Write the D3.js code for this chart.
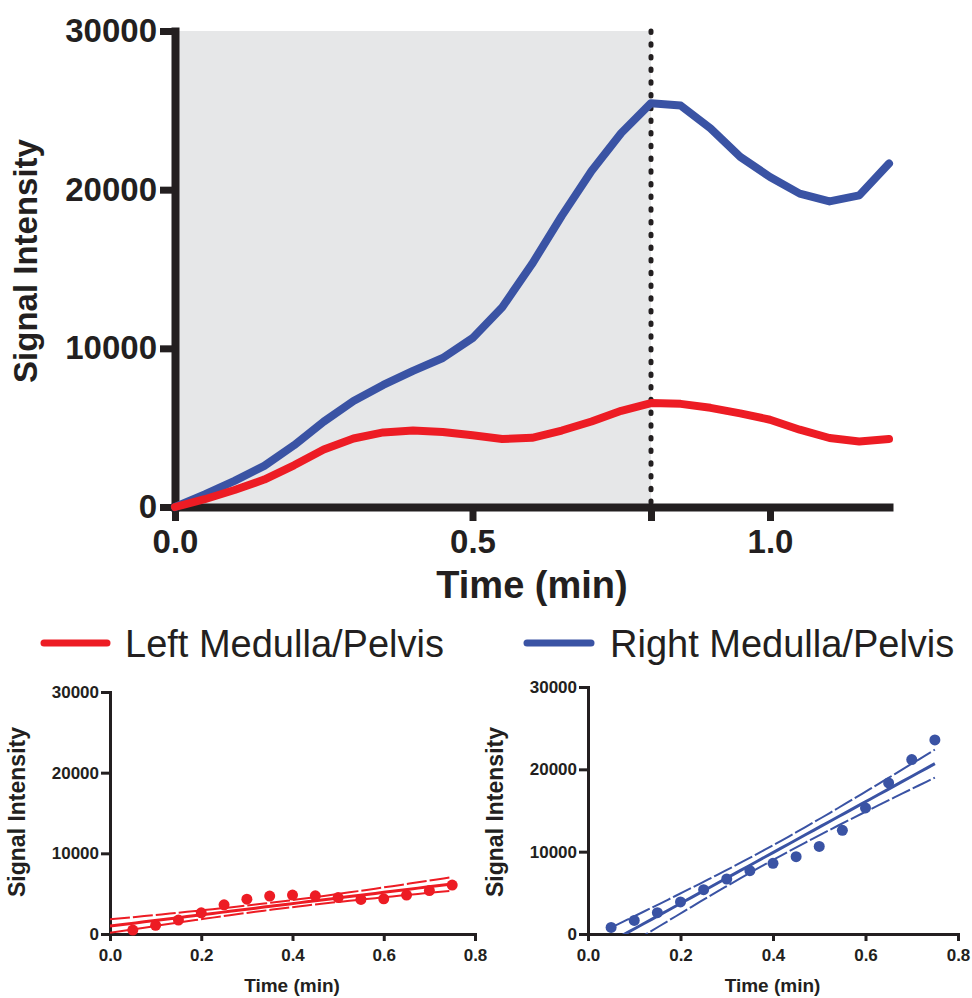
<!DOCTYPE html>
<html>
<head>
<meta charset="utf-8">
<script src="https://cdnjs.cloudflare.com/ajax/libs/d3/7.8.5/d3.min.js"></script>
<style>
  body { margin: 0; background: #fff; }
  svg { display: block; font-family: "Liberation Sans", Arial, Helvetica, sans-serif; }
</style>
</head>
<body>
<svg id="chart" width="972" height="998"></svg>
<script>
// sample times (min), one every 0.05
var times = [0, 0.05, 0.1, 0.15, 0.2, 0.25, 0.3, 0.35, 0.4, 0.45, 0.5, 0.55, 0.6,
  0.65, 0.7, 0.75, 0.8, 0.85, 0.9, 0.95, 1.0, 1.05, 1.1, 1.15, 1.2];
var leftSignal = [0, 490, 1070, 1730, 2630, 3620, 4320, 4700, 4820, 4730, 4520, 4280, 4360,
  4820, 5390, 6060, 6550, 6500, 6250, 5900, 5500, 4870, 4350, 4130, 4290];
var rightSignal = [0, 800, 1650, 2590, 3890, 5380, 6680, 7690, 8580, 9390, 10640, 12590, 15310,
  18350, 21180, 23570, 25450, 25300, 23860, 22070, 20800, 19750, 19260, 19640, 21650];

var seriesNames = ["Left Medulla/Pelvis", "Right Medulla/Pelvis"];
var mainYTicks = [0, 10000, 20000, 30000];
var mainXTicks = [0, 0.5, 0.8, 1.0];
var smallXTicks = [0, 0.2, 0.4, 0.6, 0.8];
var peakTime = 0.8;

// regression windows (first time .. peak time) and t(0.975, df)
var leftFitStart = 0, rightFitStart = 0.05, fitEnd = 0.75;
var tCrit = { 14: 2.1448, 13: 2.1604 };

var RED = "#ED1C24", BLUE = "#3A53A4", INK = "#231F20", SHADE = "#E6E7E8";

var svg = d3.select("#chart");

function styleAxis(g, lineW, tickW, fontSize) {
  g.select(".domain").attr("stroke", INK).attr("stroke-width", lineW).attr("stroke-linecap", "square");
  g.selectAll(".tick line").attr("stroke", INK).attr("stroke-width", tickW);
  g.selectAll(".tick text").attr("fill", INK).attr("font-size", fontSize).attr("font-weight", "bold");
}

/* ---------- main chart ---------- */
var x = d3.scaleLinear().domain([0, 1.2]).range([175, 889]);
var y = d3.scaleLinear().domain([0, 30000]).range([507, 31]);

svg.append("rect")
  .attr("x", x(0)).attr("y", y(30000))
  .attr("width", x(peakTime) - x(0)).attr("height", y(0) - y(30000))
  .attr("fill", SHADE);

svg.append("line")
  .attr("x1", x(peakTime)).attr("x2", x(peakTime))
  .attr("y1", y(30000)).attr("y2", y(0))
  .attr("stroke", INK).attr("stroke-width", 5)
  .attr("stroke-linecap", "round").attr("stroke-dasharray", "1.5,11.2");

var gx = svg.append("g").attr("transform", "translate(0," + y(0) + ")")
  .call(d3.axisBottom(x).tickValues(mainXTicks).tickSize(14).tickSizeOuter(0).tickPadding(9)
    .tickFormat(function(d) { return d === peakTime ? "" : d3.format(".1f")(d); }));
styleAxis(gx, 8, 7, 33);

var gy = svg.append("g").attr("transform", "translate(" + x(0) + ",0)")
  .call(d3.axisLeft(y).tickValues(mainYTicks).tickSize(15).tickSizeOuter(0).tickPadding(3)
    .tickFormat(d3.format("d")));
styleAxis(gy, 8, 7, 33);

var mainLine = d3.line()
  .x(function(d, i) { return x(times[i]); })
  .y(function(d) { return y(d); });

svg.append("path").datum(rightSignal)
  .attr("d", mainLine).attr("fill", "none").attr("stroke", BLUE)
  .attr("stroke-width", 8).attr("stroke-linejoin", "round").attr("stroke-linecap", "round");
svg.append("path").datum(leftSignal)
  .attr("d", mainLine).attr("fill", "none").attr("stroke", RED)
  .attr("stroke-width", 8).attr("stroke-linejoin", "round").attr("stroke-linecap", "round");

svg.append("text")
  .attr("transform", "translate(37," + 261 + ") rotate(-90)")
  .attr("text-anchor", "middle").attr("font-size", 33).attr("font-weight", "bold")
  .attr("fill", INK).text("Signal Intensity");
svg.append("text")
  .attr("x", 532).attr("y", 598)
  .attr("text-anchor", "middle").attr("font-size", 38).attr("font-weight", "bold")
  .attr("fill", INK).text("Time (min)");

/* ---------- legend ---------- */
var legend = [
  { name: seriesNames[0], color: RED, x1: 44, x2: 107, tx: 125 },
  { name: seriesNames[1], color: BLUE, x1: 527, x2: 591, tx: 610 }
];
legend.forEach(function(l) {
  svg.append("line").attr("x1", l.x1).attr("x2", l.x2).attr("y1", 643).attr("y2", 643)
    .attr("stroke", l.color).attr("stroke-width", 7).attr("stroke-linecap", "round");
  svg.append("text").attr("x", l.tx).attr("y", 657)
    .attr("font-size", 38).attr("fill", INK).text(l.name);
});

/* ---------- regression panels ---------- */
function linearFit(xs, ys) {
  var n = xs.length, mx = d3.mean(xs), my = d3.mean(ys);
  var sxx = 0, sxy = 0;
  for (var i = 0; i < n; i++) {
    sxx += (xs[i] - mx) * (xs[i] - mx);
    sxy += (xs[i] - mx) * (ys[i] - my);
  }
  var slope = sxy / sxx, icpt = my - slope * mx, sse = 0;
  for (var j = 0; j < n; j++) {
    var r = ys[j] - (icpt + slope * xs[j]);
    sse += r * r;
  }
  var s = Math.sqrt(sse / (n - 2));
  var t = tCrit[n - 2];
  return {
    at: function(v) { return icpt + slope * v; },
    band: function(v) { return t * s * Math.sqrt(1 / n + (v - mx) * (v - mx) / sxx); }
  };
}

function regressionPanel(id, values, fitStart, color, xr, yr, labelX) {
  var sx = d3.scaleLinear().domain([0, 0.8]).range(xr);
  var sy = d3.scaleLinear().domain([0, 30000]).range(yr);
  var xs = [], ys = [];
  times.forEach(function(t, i) {
    if (t >= fitStart - 1e-9 && t <= fitEnd + 1e-9) { xs.push(t); ys.push(values[i]); }
  });
  var fit = linearFit(xs, ys);
  var g = svg.append("g");

  svg.append("clipPath").attr("id", id)
    .append("rect").attr("x", xr[0]).attr("y", yr[1] - 5)
    .attr("width", xr[1] - xr[0]).attr("height", yr[0] - yr[1] + 5);

  var ax = g.append("g").attr("transform", "translate(0," + yr[0] + ")")
    .call(d3.axisBottom(sx).tickValues(smallXTicks).tickSize(7).tickSizeOuter(0).tickPadding(8)
      .tickFormat(d3.format(".1f")));
  styleAxis(ax, 3, 3, 17);
  var ay = g.append("g").attr("transform", "translate(" + xr[0] + ",0)")
    .call(d3.axisLeft(sy).tickValues(mainYTicks).tickSize(9).tickSizeOuter(0).tickPadding(2)
      .tickFormat(d3.format("d")));
  styleAxis(ay, 3, 3, 17);

  var ends = [xs[0], fitEnd];
  var lines = [
    { f: function(v) { return fit.at(v); }, w: 3, dash: null },
    { f: function(v) { return fit.at(v) + fit.band(v); }, w: 2, dash: "20,3" },
    { f: function(v) { return fit.at(v) - fit.band(v); }, w: 2, dash: "20,3" }
  ];
  var plot = g.append("g").attr("clip-path", "url(#" + id + ")");
  lines.forEach(function(l) {
    var pts = d3.range(0, 41).map(function(k) { var v = ends[0] + (ends[1] - ends[0]) * k / 40; return [v, l.f(v)]; });
    plot.append("path").datum(pts)
      .attr("d", d3.line().x(function(d) { return sx(d[0]); }).y(function(d) { return sy(d[1]); }))
      .attr("fill", "none").attr("stroke", color).attr("stroke-width", l.w)
      .attr("stroke-dasharray", l.dash);
  });

  g.selectAll("circle.pt").data(xs.map(function(v, i) { return [v, ys[i]]; }).filter(function(d) { return d[0] > 0; }))
    .enter().append("circle")
    .attr("cx", function(d) { return sx(d[0]); })
    .attr("cy", function(d) { return sy(d[1]); })
    .attr("r", 5.5).attr("fill", color);

  g.append("text")
    .attr("transform", "translate(" + labelX + ",812) rotate(-90)")
    .attr("text-anchor", "middle").attr("font-size", 23).attr("font-weight", "bold")
    .attr("fill", INK).text("Signal Intensity");
  g.append("text")
    .attr("x", (xr[0] + xr[1]) / 2 - 0.5).attr("y", 992)
    .attr("text-anchor", "middle").attr("font-size", 19).attr("font-weight", "bold")
    .attr("fill", INK).text("Time (min)");
}

regressionPanel("clipLeft", leftSignal, leftFitStart, RED, [110, 475], [934, 692], 25);
regressionPanel("clipRight", rightSignal, rightFitStart, BLUE, [588, 958], [934, 687], 503);
</script>
</body>
</html>
